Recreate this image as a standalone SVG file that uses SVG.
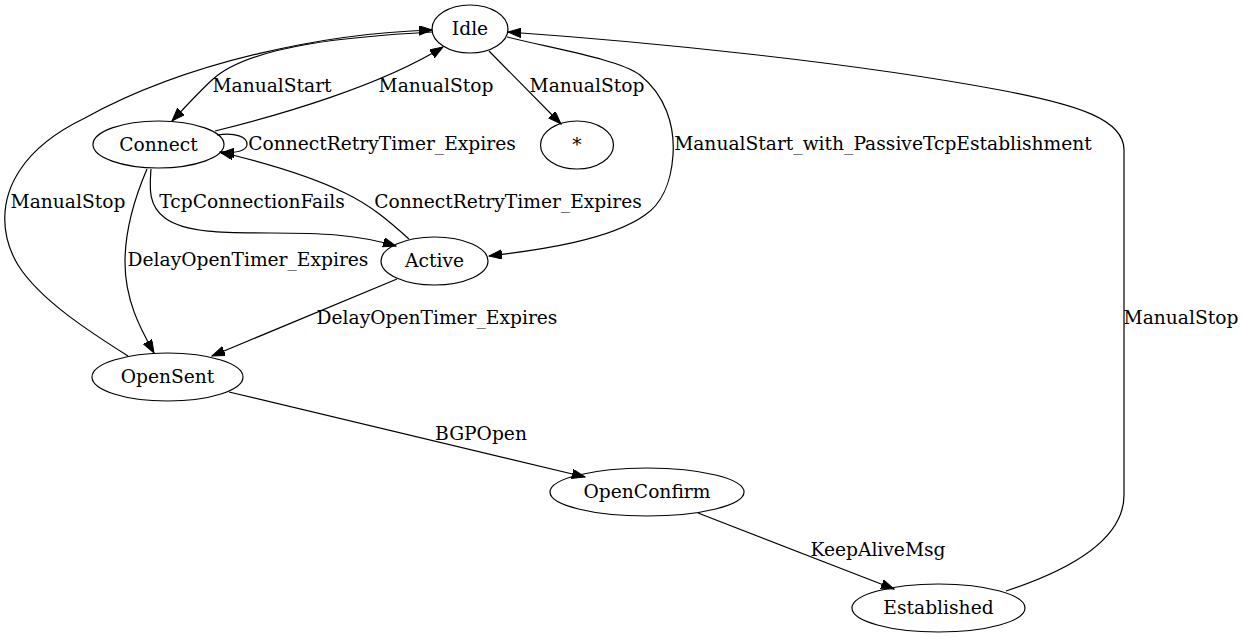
<svg xmlns="http://www.w3.org/2000/svg" width="1246" height="639" viewBox="0 0 1246 639">
<defs>
<marker id="arr" markerWidth="14" markerHeight="10" refX="13" refY="4.7" orient="auto" markerUnits="userSpaceOnUse">
<path d="M0,0 L13,4.7 L0,9.4 z" fill="#000" stroke="#000" stroke-width="1"/>
</marker>
</defs>
<style>
text{font-family:"DejaVu Serif","Liberation Serif",serif;font-size:18.67px;fill:#000;text-anchor:middle}
.n ellipse{fill:none;stroke:#000;stroke-width:1.2}
.e path{fill:none;stroke:#000;stroke-width:1.2}
.e path.a{marker-end:url(#arr)}
</style>
<rect x="0" y="0" width="1246" height="639" fill="#fff"/>
<g id="edges" class="e">
<path class="a" d="M432,32 C360,36 250,44 212,80 C200,91 188,104 172,121"/>
<path class="a" d="M215,131 C280,115 380,86 443,47"/>
<path class="a" d="M489,51 L561,124"/>
<path class="a" d="M217,135 C235,132 248,137 247,145 C246,151 235,153 221,153"/>
<path class="a" d="M409,239 C390,222 372,206 345,193 C310,176 262,162 220,152"/>
<path class="a" d="M151,169 C150,185 147,205 165,218 C185,233 225,233 270,233 C320,233 355,234 396,246"/>
<path class="a" d="M147,169 C138,190 125,225 125,262 C125,300 140,328 154,353"/>
<path class="a" d="M397,279 L212,356"/>
<path class="a" d="M128,356 C90,332 40,300 18,265 C0,235 0,200 20,170 C35,147 60,130 85,118 C190,60 330,33 432,30"/>
<path class="a" d="M507,37 C560,50 620,60 640,75 C665,95 675,125 673,155 C671,185 660,205 645,215 C610,240 540,250 489,256"/>
<path class="a" d="M1006,591 C1070,570 1124,540 1124,495 L1124,150 C1124,120 1080,105 1000,90 C850,62 650,42 508,32"/>
<path class="a" d="M229,392 L585,477"/>
<path class="a" d="M698,513 L894,589"/>
<text x="272" y="92">ManualStart</text>
<text x="436" y="92">ManualStop</text>
<text x="587" y="92">ManualStop</text>
<text x="382" y="150">ConnectRetryTimer_Expires</text>
<text x="508" y="208">ConnectRetryTimer_Expires</text>
<text x="252" y="208">TcpConnectionFails</text>
<text x="68" y="208">ManualStop</text>
<text x="248" y="266">DelayOpenTimer_Expires</text>
<text x="437" y="324">DelayOpenTimer_Expires</text>
<text x="883" y="150">ManualStart_with_PassiveTcpEstablishment</text>
<text x="1181" y="324">ManualStop</text>
<text x="481" y="440">BGPOpen</text>
<text x="878" y="556">KeepAliveMsg</text>
</g>
<g id="Idle" class="n"><ellipse cx="470" cy="29" rx="38" ry="24"/><text x="470" y="35">Idle</text></g>
<g id="Connect" class="n"><ellipse cx="158.5" cy="144.5" rx="65.5" ry="23.5"/><text x="158.5" y="151">Connect</text></g>
<g id="Star" class="n"><ellipse cx="577" cy="145" rx="36.5" ry="24"/><text x="577" y="151">*</text></g>
<g id="Active" class="n"><ellipse cx="434.5" cy="261" rx="53.5" ry="24"/><text x="434.5" y="267">Active</text></g>
<g id="OpenSent" class="n"><ellipse cx="167.5" cy="377" rx="75.5" ry="24"/><text x="167.5" y="383">OpenSent</text></g>
<g id="OpenConfirm" class="n"><ellipse cx="647" cy="492" rx="97" ry="24"/><text x="647" y="498">OpenConfirm</text></g>
<g id="Established" class="n"><ellipse cx="938.5" cy="608" rx="86.5" ry="24"/><text x="938.5" y="614">Established</text></g>
</svg>
